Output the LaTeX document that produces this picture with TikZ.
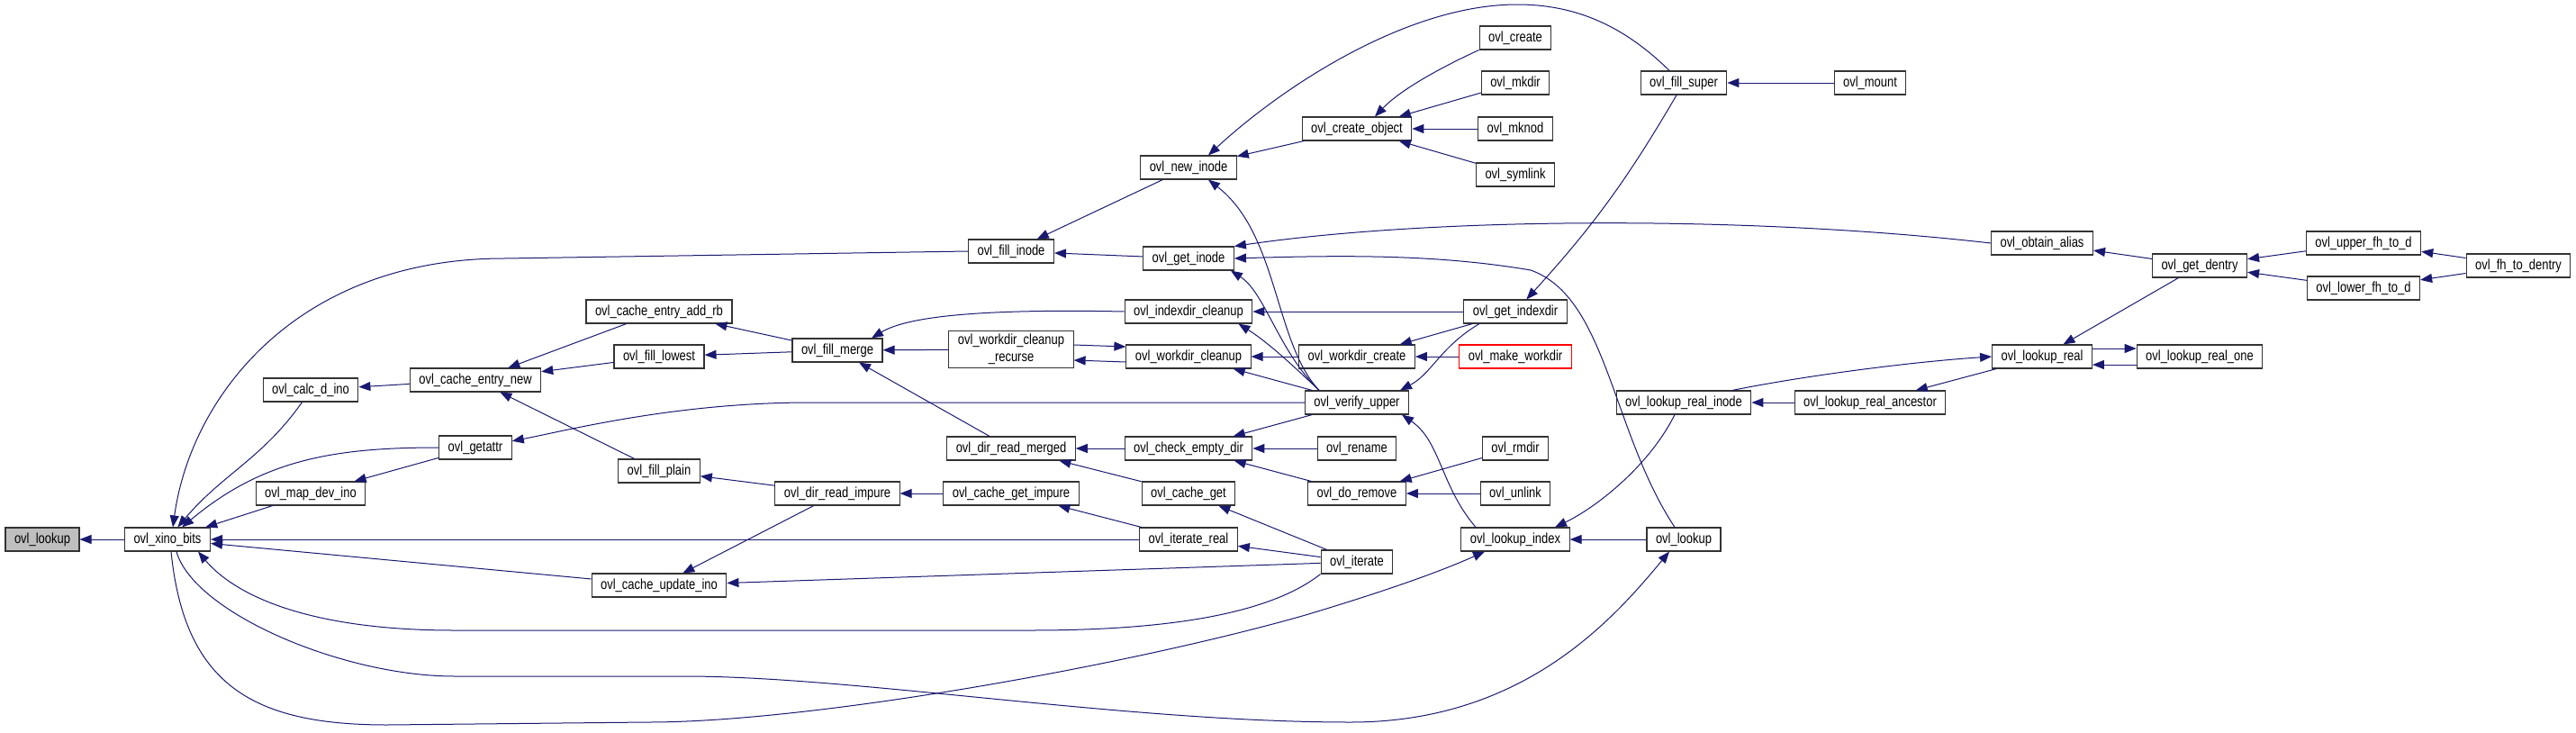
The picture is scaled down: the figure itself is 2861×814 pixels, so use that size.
\documentclass[tikz,border=0pt]{standalone}
\usepackage{fontspec}
\usepackage{tikz}
\usetikzlibrary{arrows.meta}
\newfontfamily\dxfont{Liberation Sans}[FakeStretch=0.81]
\definecolor{cEdge}{RGB}{25,25,112}
\definecolor{cRoot}{RGB}{191,191,191}
\tikzset{
	fn/.style={rectangle, draw=black!80, fill=white, line width=0.55pt, minimum height=13pt, inner xsep=5pt, inner ysep=1pt, text centered, align=center, font={\fontsize{8}{9.6}\dxfont}},
	rootfn/.style={fn, fill=cRoot},
	missfn/.style={fn, draw=red},
	% caller -> callee
	call/.style={draw=cEdge, line width=0.5pt, -{Triangle[length=6.5pt, width=5pt]}},
}

\begin{document}
\begin{tikzpicture}[x=0.5pt, y=-0.5pt]
	\useasboundingbox (0,0) rectangle (2861,814);
	% ranks 0-3
	\node[rootfn] (lookup) at (47,599) {ovl\_lookup};
	\node[fn] (xino) at (186,599) {ovl\_xino\_bits};
	\node[fn] (calcdino) at (345,433) {ovl\_calc\_d\_ino};
	\node[fn] (mapdevino) at (345,548) {ovl\_map\_dev\_ino};
	\node[fn] (cacheentrynew) at (528,422) {ovl\_cache\_entry\_new};
	\node[fn] (getattr) at (528,497) {ovl\_getattr};
	% ranks 4-5
	\node[fn] (addrb) at (732,346) {ovl\_cache\_entry\_add\_rb};
	\node[fn] (filllowest) at (732,396) {ovl\_fill\_lowest};
	\node[fn] (fillplain) at (732,523) {ovl\_fill\_plain};
	\node[fn] (cacheupdateino) at (732,650) {ovl\_cache\_update\_ino};
	\node[fn] (fillmerge) at (930,389) {ovl\_fill\_merge};
	\node[fn] (dirreadimpure) at (930,548) {ovl\_dir\_read\_impure};
	% rank 6
	\node[fn] (fillinode) at (1123,279) {ovl\_fill\_inode};
	\node[fn, minimum height=20.5pt] (recurse) at (1123,388) {ovl\_workdir\_cleanup\\\_recurse};
	\node[fn] (dirreadmerged) at (1123,498) {ovl\_dir\_read\_merged};
	\node[fn] (cachegetimpure) at (1123,548) {ovl\_cache\_get\_impure};
	% rank 7
	\node[fn] (newinode) at (1320,186) {ovl\_new\_inode};
	\node[fn] (getinode) at (1320,287) {ovl\_get\_inode};
	\node[fn] (indexdircleanup) at (1320,346) {ovl\_indexdir\_cleanup};
	\node[fn] (workdircleanup) at (1320,396) {ovl\_workdir\_cleanup};
	\node[fn] (checkemptydir) at (1320,498) {ovl\_check\_empty\_dir};
	\node[fn] (cacheget) at (1320,548) {ovl\_cache\_get};
	\node[fn] (iteratereal) at (1320,599) {ovl\_iterate\_real};
	% rank 8
	\node[fn] (createobject) at (1507,143) {ovl\_create\_object};
	\node[fn] (workdircreate) at (1507,396) {ovl\_workdir\_create};
	\node[fn] (verifyupper) at (1507,447) {ovl\_verify\_upper};
	\node[fn] (rename) at (1507,498) {ovl\_rename};
	\node[fn] (doremove) at (1507,548) {ovl\_do\_remove};
	\node[fn] (iterate) at (1507,624) {ovl\_iterate};
	% rank 9
	\node[fn] (create) at (1683,42) {ovl\_create};
	\node[fn] (mkdir) at (1683,92) {ovl\_mkdir};
	\node[fn] (mknod) at (1683,143) {ovl\_mknod};
	\node[fn] (symlink) at (1683,194) {ovl\_symlink};
	\node[fn] (getindexdir) at (1683,346) {ovl\_get\_indexdir};
	\node[missfn] (makeworkdir) at (1683,396) {ovl\_make\_workdir};
	\node[fn] (rmdir) at (1683,498) {ovl\_rmdir};
	\node[fn] (unlink) at (1683,548) {ovl\_unlink};
	\node[fn] (lookupindex) at (1683,599) {ovl\_lookup\_index};
	% ranks 10-15
	\node[fn] (fillsuper) at (1870,92) {ovl\_fill\_super};
	\node[fn] (lookuprealinode) at (1870,447) {ovl\_lookup\_real\_inode};
	\node[fn] (lookupR) at (1870,599) {ovl\_lookup};
	\node[fn] (mount) at (2077,92) {ovl\_mount};
	\node[fn] (ancestor) at (2077,447) {ovl\_lookup\_real\_ancestor};
	\node[fn] (obtainalias) at (2268,270) {ovl\_obtain\_alias};
	\node[fn] (lookupreal) at (2268,396) {ovl\_lookup\_real};
	\node[fn] (getdentry) at (2443,295) {ovl\_get\_dentry};
	\node[fn] (realone) at (2443,396) {ovl\_lookup\_real\_one};
	\node[fn] (upperfh) at (2625,270) {ovl\_upper\_fh\_to\_d};
	\node[fn] (lowerfh) at (2625,320) {ovl\_lower\_fh\_to\_d};
	\node[fn] (fhtodentry) at (2797,295) {ovl\_fh\_to\_dentry};

	% calls into ovl_xino_bits
	\draw[call] (xino) -- (lookup);
	\draw[call] (mapdevino) -- (xino);
	\draw[call] (iteratereal) -- (xino);
	\draw[call] (cacheupdateino) -- (xino);
	\draw[call] (calcdino) to[out=235, in=50] (xino);
	\draw[call] (getattr.west) to[out=180, in=40] (xino);
	\draw[call] (fillinode.west) -- (560,287) .. controls (330,287) and (212,440) .. ([xshift=3pt]xino.north);
	\draw[call] (iterate.south west) .. controls (1400,690) and (1260,700) .. (1144,700) -- (505,700) .. controls (340,700) and (260,660) .. ([xshift=-7pt]xino.south east);
	\draw[call] ([xshift=5pt]xino.south) .. controls (215,680) and (380,751) .. (505,751) -- (760,751) .. controls (950,751) and (1250,802) .. (1500,802) .. controls (1690,802) and (1790,690) .. ([xshift=-8pt]lookupR.south);
	\draw[call] ([xshift=2pt]xino.south) .. controls (205,760) and (280,805) .. (430,805) -- (720,802) .. controls (900,802) and (1250,740) .. (1450,683) .. controls (1560,650) and (1610,630) .. ([xshift=-17pt]lookupindex.south);

	% left half
	\draw[call] (cacheentrynew) -- (calcdino);
	\draw[call] (getattr) -- (mapdevino);
	\draw[call] (addrb) -- (cacheentrynew);
	\draw[call] (filllowest) -- (cacheentrynew);
	\draw[call] (fillplain) -- (cacheentrynew);
	\draw[call] (fillmerge) -- (addrb);
	\draw[call] (fillmerge) -- (filllowest);
	\draw[call] (recurse) -- (fillmerge);
	\draw[call] (dirreadmerged) -- (fillmerge);
	\draw[call] (indexdircleanup.west) .. controls (1100,343) and (1010,350) .. ([xshift=19pt]fillmerge.north);
	\draw[call] (dirreadimpure) -- (fillplain);
	\draw[call] (dirreadimpure) -- (cacheupdateino);
	\draw[call] (cachegetimpure) -- (dirreadimpure);
	\draw[call] (iteratereal) -- (cachegetimpure);
	\draw[call] (checkemptydir) -- (dirreadmerged);
	\draw[call] (cacheget) -- (dirreadmerged);
	\draw[call] (iterate) -- (cacheget);
	\draw[call] (iterate) -- (iteratereal);
	\draw[call] (iterate) -- (cacheupdateino);
	\draw[call] (newinode) -- (fillinode);
	\draw[call] (getinode) -- (fillinode);
	\draw[call] ([yshift=2.5pt]recurse.east) -- ([yshift=5.5pt]workdircleanup.west);
	\draw[call] ([yshift=-3pt]workdircleanup.west) -- ([yshift=-6pt]recurse.east);
	\draw[call] (verifyupper.west) -- (900,447) .. controls (750,447) and (630,478) .. (getattr.10);

	% ovl_verify_upper and its neighbours
	\draw[call] ([xshift=-21pt]verifyupper.north) .. controls (1415,380) and (1420,260) .. ([xshift=11pt]newinode.south);
	\draw[call] ([xshift=-21pt]verifyupper.north) .. controls (1420,390) and (1405,325) .. ([xshift=-2pt]getinode.south east);
	\draw[call] ([xshift=-21pt]verifyupper.north) .. controls (1430,400) and (1405,378) .. ([xshift=-8pt]indexdircleanup.south east);
	\draw[call] (verifyupper) -- (workdircleanup);
	\draw[call] (verifyupper) -- (checkemptydir);
	\draw[call] (workdircreate) -- (workdircleanup);
	\draw[call] (makeworkdir) -- (workdircreate);
	\draw[call] (getindexdir) -- (workdircreate);
	\draw[call] (getindexdir) -- (indexdircleanup);
	\draw[call] ([xshift=-20pt]getindexdir.south) .. controls (1600,385) and (1590,415) .. ([xshift=24pt]verifyupper.north);
	\draw[call] (rename) -- (checkemptydir);
	\draw[call] (doremove) -- (checkemptydir);
	\draw[call] (rmdir) -- (doremove);
	\draw[call] (unlink) -- (doremove);

	% create and super
	\draw[call] (createobject) -- (newinode);
	\draw[call] (create.south west) .. controls (1600,75) and (1555,100) .. ([xshift=10pt]createobject.north);
	\draw[call] (mkdir) -- (createobject);
	\draw[call] (mknod) -- (createobject);
	\draw[call] (symlink) -- (createobject);
	\draw[call] ([xshift=-8pt]fillsuper.north) .. controls (1800,25) and (1745,5) .. (1685,5) .. controls (1560,5) and (1420,100) .. ([xshift=11pt]newinode.north);
	\draw[call] (mount) -- (fillsuper);
	\draw[call] (fillsuper) to[bend left=6] (getindexdir);

	% lookup side
	\draw[call] (obtainalias.west) .. controls (1950,240) and (1600,240) .. (getinode.north east);
	\draw[call] ([xshift=-5pt]lookupR.north) .. controls (1790,480) and (1785,330) .. (1700,300) .. controls (1600,283) and (1500,283) .. (getinode.east);
	\draw[call] ([xshift=-22pt]lookupindex.north) .. controls (1600,540) and (1600,490) .. ([xshift=25pt]verifyupper.south);
	\draw[call] ([xshift=-5pt]lookuprealinode.south) .. controls (1830,520) and (1770,565) .. ([xshift=22pt]lookupindex.north);
	\draw[call] (lookupR) -- (lookupindex);
	\draw[call] (ancestor) -- (lookuprealinode);
	\draw[call] ([xshift=27pt]lookuprealinode.north) .. controls (2000,418) and (2120,402) .. (lookupreal.west);
	\draw[call] (lookupreal) -- (ancestor);
	\draw[call] ([yshift=4.5pt]lookupreal.east) -- ([yshift=4.5pt]realone.west);
	\draw[call] ([yshift=-4.5pt]realone.west) -- ([yshift=-4.5pt]lookupreal.east);
	\draw[call] (getdentry) -- (lookupreal);
	\draw[call] (getdentry) -- (obtainalias);
	\draw[call] (upperfh) -- (getdentry);
	\draw[call] (lowerfh) -- (getdentry);
	\draw[call] (fhtodentry) -- (upperfh);
	\draw[call] (fhtodentry) -- (lowerfh);
\end{tikzpicture}
\end{document}
